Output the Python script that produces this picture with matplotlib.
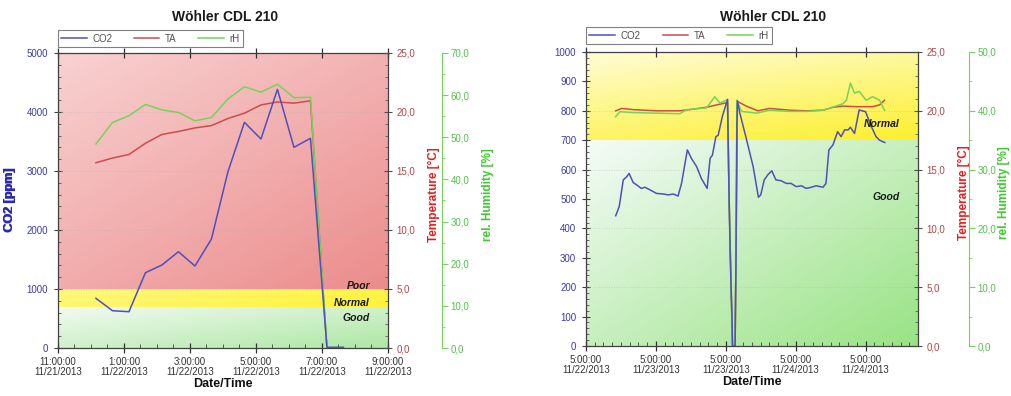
import numpy as np
import matplotlib
matplotlib.use("Agg")
import matplotlib.pyplot as plt
from matplotlib.ticker import MultipleLocator, FixedLocator

plt.rcParams['font.family'] = ['Liberation Sans', 'DejaVu Sans']

# ---------------- data: left panel ----------------
hours_L = [1.15, 1.65, 2.15, 2.65, 3.15, 3.65, 4.15, 4.65, 5.15, 5.65, 6.15, 6.65, 7.15, 7.65, 8.15, 8.65]
co2_L = [842, 632, 615, 1276, 1407, 1632, 1390, 1847, 2988, 3825, 3542, 4384, 3401, 3554, 12, 12]
hours_L_env = [1.15, 1.65, 2.15, 2.65, 3.15, 3.65, 4.15, 4.65, 5.15, 5.65, 6.15, 6.65, 7.15, 7.65, 8.15]
ta_L = [15.7, 16.1, 16.4, 17.35, 18.1, 18.35, 18.65, 18.85, 19.45, 19.9, 20.6, 20.85, 20.75, 20.95, 0.0]
rh_L = [48.4, 53.5, 55.1, 57.8, 56.5, 55.9, 53.9, 54.7, 59.1, 62.0, 60.7, 62.6, 59.4, 59.5, 0.0]
xticks_L = [0, 2, 4, 6, 8, 10]
xlabels_L = ["11:00:00\n11/21/2013", "1:00:00\n11/22/2013", "3:00:00\n11/22/2013",
             "5:00:00\n11/22/2013", "7:00:00\n11/22/2013", "9:00:00\n11/22/2013"]
co2_ticks_L = [0, 1000, 2000, 3000, 4000, 5000]
temp_ticks_L = [0, 5, 10, 15, 20, 25]
hum_ticks_L = [0, 10, 20, 30, 40, 50, 60, 70]
zones_L = [(0, 700, 'good'), (700, 1000, 'normal'), (1000, 5000, 'poor')]
zone_text_L = [("Poor", 1050), ("Normal", 763), ("Good", 508)]

# ---------------- data: right panel ----------------
hours_R_co2 = [5.1, 5.7, 6.4, 7.0, 7.4, 8.1, 8.7, 9.5, 10.1, 11.0, 12.1, 13.3, 14.1, 15.0, 15.8, 16.4,
               17.4, 18.1, 19.0, 19.8, 20.8, 21.3, 21.7, 22.3, 22.7, 23.4, 24.3,
               24.55, 24.75, 24.95, 25.05, 25.15, 25.6, 25.65, 25.75, 25.9, 26.0,
               26.4, 27.5, 28.7, 29.6, 30.0, 30.6, 31.2, 31.9, 32.6, 33.5, 34.4, 35.2, 36.1,
               37.0, 37.8, 38.7, 39.5, 40.7, 41.2, 41.7, 42.4, 43.2, 43.8, 44.4, 45.0, 45.4,
               46.1, 46.9, 47.4, 48.0, 49.0, 49.8, 50.4, 51.3]
co2_R = [443, 474, 565, 576, 587, 556, 548, 536, 540, 531, 519, 517, 514, 517, 510, 553,
         667, 638, 610, 570, 536, 638, 649, 712, 717, 780, 839,
         525, 316, 168, 112, 0, 0, 112, 292, 746, 834,
         793, 707, 610, 506, 514, 565, 582, 596, 565, 562, 553, 553, 542,
         545, 536, 540, 545, 540, 553, 667, 684, 729, 712, 735, 735, 744,
         723, 803, 800, 797, 746, 712, 700, 692]
hours_R_ta = [5.1, 6.1, 8.1, 12.1, 16.1, 17.8, 20.7, 22.4, 24.3, 24.55, 25.15, 25.6, 25.75, 26.0,
              27.5, 29.5, 31.5, 35.0, 37.8, 40.7, 42.4, 44.1, 46.4, 49.2, 50.4, 51.25]
ta_R = [20.0, 20.2, 20.1, 20.0, 20.0, 20.1, 20.3, 20.5, 20.7, 13.0, 0.0, 0.0, 7.3, 20.8,
        20.4, 20.0, 20.2, 20.05, 20.0, 20.05, 20.3, 20.4, 20.35, 20.35, 20.5, 20.9]
hours_R_rh = [5.1, 5.8, 8.1, 12.1, 16.1, 17.3, 20.7, 22.1, 23.0, 24.3, 24.55, 25.15, 25.6, 25.75,
              25.9, 26.7, 29.3, 31.5, 35.0, 37.8, 40.7, 43.2, 44.1, 44.7, 45.4, 46.1, 46.9, 48.1,
              49.2, 50.4, 51.25]
rh_R = [39.0, 39.85, 39.7, 39.6, 39.5, 40.2, 40.5, 42.4, 41.3, 41.9, 26.0, 0.0, 0.0, 14.6,
        41.8, 39.9, 39.6, 40.1, 39.9, 39.9, 40.1, 40.9, 41.2, 41.8, 44.7, 43.0, 43.3, 41.8,
        42.4, 41.8, 40.1]
xticks_R = [0, 12, 24, 36, 48]
xlabels_R = ["5:00:00\n11/22/2013", "5:00:00\n11/23/2013", "5:00:00\n11/23/2013",
             "5:00:00\n11/24/2013", "5:00:00\n11/24/2013"]
co2_ticks_R = [0, 100, 200, 300, 400, 500, 600, 700, 800, 900, 1000]
temp_ticks_R = [0, 5, 10, 15, 20, 25]
hum_ticks_R = [0, 10, 20, 30, 40, 50]
zones_R = [(0, 700, 'good'), (700, 1000, 'normal')]
zone_text_R = [("Normal", 755), ("Good", 507)]

# ---------------- style ----------------
C_CO2 = '#4f4fbf'
C_TA = '#cc4c4c'
C_RH = '#74d45a'
C_CO2_TXT = '#3c3ca8'
C_TA_TXT = '#b04848'
C_RH_TXT = '#52c24a'

zone_colors = {
    'L': {'poor': ((0.975, 0.82, 0.82), (0.925, 0.55, 0.55), 1.0, 1.2),
          'normal': ((1.0, 0.97, 0.50), (1.0, 0.95, 0.22), 1.0, 0.3),
          'good': ((0.95, 0.98, 0.95), (0.68, 0.91, 0.64), 1.0, 1.0)},
    'R': {'normal': ((1.0, 0.99, 0.84), (0.99, 0.94, 0.18), 0.7, 1.4),
          'good': ((0.96, 0.985, 0.97), (0.60, 0.89, 0.52), 1.0, 1.0)},
}

PX2PT = 72.0 / 100.0


def gradient_fill(ax, x0, x1, y0, y1, c0, c1, wx, wy):
    nx, ny = 120, 60
    fx = np.linspace(0, 1, nx)[None, :]
    fy = np.linspace(0, 1, ny)[:, None]
    t = (wx * fx + wy * fy) / (wx + wy)
    c0 = np.array(c0)[None, None, :]
    c1 = np.array(c1)[None, None, :]
    img = c0 * (1 - t[..., None]) + c1 * t[..., None]
    ax.imshow(img, extent=[x0, x1, y0, y1], origin='upper', aspect='auto',
              interpolation='bilinear', zorder=0)


fig = plt.figure(figsize=(10.12, 3.96), dpi=100)
W, H = 1012, 396

panels = [
    dict(key='L', px=(58, 388), py=(53, 348), xlim=(0, 10), xticks=xticks_L, xlabels=xlabels_L, xminor=0.5,
         co2_lim=(0, 5000), co2_ticks=co2_ticks_L, co2_minor=200,
         temp_ticks=temp_ticks_L, temp_minor=1, hum_lim=(0, 70), hum_ticks=hum_ticks_L, hum_minor=5,
         hum_off=54, hum_lab=94, zones=zones_L, ztext=zone_text_L,
         co2=(hours_L, co2_L), ta=(hours_L_env, ta_L), rh=(hours_L_env, rh_L),
         title_x=225, leg_w=185, leg_gap=6),
    dict(key='R', px=(586, 918), py=(52, 346), xlim=(0, 57), xticks=xticks_R, xlabels=xlabels_R, xminor=1.5,
         co2_lim=(0, 1000), co2_ticks=co2_ticks_R, co2_minor=20,
         temp_ticks=temp_ticks_R, temp_minor=1, hum_lim=(0, 50), hum_ticks=hum_ticks_R, hum_minor=5,
         hum_off=51, hum_lab=80, zones=zones_R, ztext=zone_text_R,
         co2=(hours_R_co2, co2_R), ta=(hours_R_ta, ta_R), rh=(hours_R_rh, rh_R),
         title_x=773, leg_w=186, leg_gap=8),
]

for p in panels:
    x0, x1 = p['px']
    yt, yb = p['py']
    wpx, hpx = x1 - x0, yb - yt
    rect = [x0 / W, 1 - yb / H, wpx / W, hpx / H]
    ax = fig.add_axes(rect)
    for lo, hi, name in p['zones']:
        c0, c1, wx, wy = zone_colors[p['key']][name]
        gradient_fill(ax, p['xlim'][0], p['xlim'][1], lo, hi, c0, c1, wx, wy)
    ax.set_xlim(*p['xlim'])
    ax.set_ylim(*p['co2_lim'])

    ax_t = ax.twinx()
    ax_t.set_ylim(0, 25)
    ax_h = ax.twinx()
    ax_h.set_ylim(*p['hum_lim'])
    ax_h.spines['right'].set_position(('outward', p['hum_off'] * PX2PT))
    for s in ['left', 'top', 'bottom']:
        ax_h.spines[s].set_visible(False)
    ax_h.spines['right'].set_color(C_RH)
    ax_c = ax.twinx()
    ax_c.set_ylim(*p['co2_lim'])
    ax_c.axis('off')

    for tv in p['temp_ticks'][1:-1]:
        ax_t.axhline(tv, color='#b0b0b0', lw=0.6, ls=(0, (1, 2)), alpha=0.6, zorder=1)

    l_ta, = ax_t.plot(p['ta'][0], p['ta'][1], color=C_TA, lw=1.1, label='TA', zorder=3)
    l_rh, = ax_h.plot(p['rh'][0], p['rh'][1], color=C_RH, lw=1.1, label='rH', zorder=3)
    l_co2, = ax_c.plot(p['co2'][0], p['co2'][1], color=C_CO2, lw=1.1, label='CO2', zorder=3)

    ax.yaxis.set_major_locator(FixedLocator(p['co2_ticks']))
    ax.set_yticklabels([str(v) for v in p['co2_ticks']])
    ax.yaxis.set_minor_locator(MultipleLocator(p['co2_minor']))
    ax.tick_params(axis='y', which='major', direction='inout', length=6, width=0.8,
                   colors='#404040', labelcolor=C_CO2_TXT, labelsize=7, pad=4)
    ax.tick_params(axis='y', which='minor', direction='in', length=2.5, width=0.6, colors='#505050')
    ax.xaxis.set_major_locator(FixedLocator(p['xticks']))
    ax.set_xticklabels(p['xlabels'])
    ax.xaxis.set_minor_locator(MultipleLocator(p['xminor']))
    ax.tick_params(axis='x', which='major', direction='inout', length=7, width=0.9, top=True,
                   colors='#303030', labelcolor='#333333', labelsize=7, pad=3)
    ax.tick_params(axis='x', which='minor', direction='in', length=3, width=0.6, top=False,
                   colors='#404040')
    for lab in ax.get_xticklabels():
        lab.set_linespacing(1.0)
    for s in ['left', 'bottom', 'top']:
        ax.spines[s].set_color('#404040')
        ax.spines[s].set_linewidth(0.9)
    ax.spines['right'].set_visible(False)

    ax_t.yaxis.set_major_locator(FixedLocator(p['temp_ticks']))
    ax_t.set_yticklabels([f"{v:.1f}".replace('.', ',') for v in p['temp_ticks']])
    ax_t.yaxis.set_minor_locator(MultipleLocator(p['temp_minor']))
    ax_t.tick_params(axis='y', which='major', direction='inout', length=6, width=0.8,
                     colors='#505050', labelcolor=C_TA_TXT, labelsize=7, pad=3)
    ax_t.tick_params(axis='y', which='minor', direction='in', length=2.5, width=0.6, colors='#606060')
    ax_t.spines['right'].set_color('#404040')
    ax_t.spines['right'].set_linewidth(0.9)
    for s in ['left', 'top', 'bottom']:
        ax_t.spines[s].set_visible(False)

    ax_h.yaxis.set_major_locator(FixedLocator(p['hum_ticks']))
    ax_h.set_yticklabels([f"{v:.1f}".replace('.', ',') for v in p['hum_ticks']])
    ax_h.yaxis.set_minor_locator(MultipleLocator(p['hum_minor']))
    ax_h.tick_params(axis='y', which='major', direction='out', length=4, width=0.8,
                     colors=C_RH, labelcolor=C_RH_TXT, labelsize=7, pad=2)
    ax_h.tick_params(axis='y', which='minor', direction='out', length=2, width=0.6, colors=C_RH)

    ax.set_ylabel('CO2 [ppm]', color='#2a2ab0', fontweight='bold', fontsize=9)
    ax.yaxis.set_label_coords((16 - x0) / wpx, 0.5)
    ax_t.set_ylabel('Temperature [°C]', color='#e02020', fontweight='bold', fontsize=8.5)
    ax_t.yaxis.set_label_coords(1 + 40 / wpx, 0.52)
    ax_h.set_ylabel('rel. Humidity [%]', color='#3ccc2c', fontweight='bold', fontsize=8.5)
    ax_h.yaxis.set_label_coords(1 + p['hum_lab'] / wpx, 0.52)
    ax.set_xlabel('Date/Time', fontweight='bold', fontsize=9, color='#111111')
    ax.xaxis.set_label_coords(0.5, -30 / hpx)

    for txt, yv in p['ztext']:
        ax_c.text(1 - 18 / wpx, yv, txt, transform=ax_c.get_yaxis_transform(),
                  ha='right', va='center', fontsize=7.5, fontweight='bold', fontstyle='italic',
                  color='#1a1a1a', zorder=5)

    leg = ax_c.legend(handles=[l_co2, l_ta, l_rh], ncol=3, loc='lower left',
                      bbox_to_anchor=(0, 1 + p['leg_gap'] / hpx, p['leg_w'] / wpx, 0.05),
                      mode='expand', borderaxespad=0, fontsize=7, frameon=True, fancybox=False,
                      handlelength=2.6, handletextpad=0.6, borderpad=0.35, columnspacing=1.0)
    leg.get_frame().set_edgecolor('#606060')
    leg.get_frame().set_linewidth(0.8)
    for t in leg.get_texts():
        t.set_color('#505050')

    fig.text(p['title_x'] / W, 1 - 17 / H, 'Wöhler CDL 210', ha='center', va='center',
             fontsize=10, fontweight='bold', color='#1a1a1a')

fig.savefig('out.png', dpi=100)
